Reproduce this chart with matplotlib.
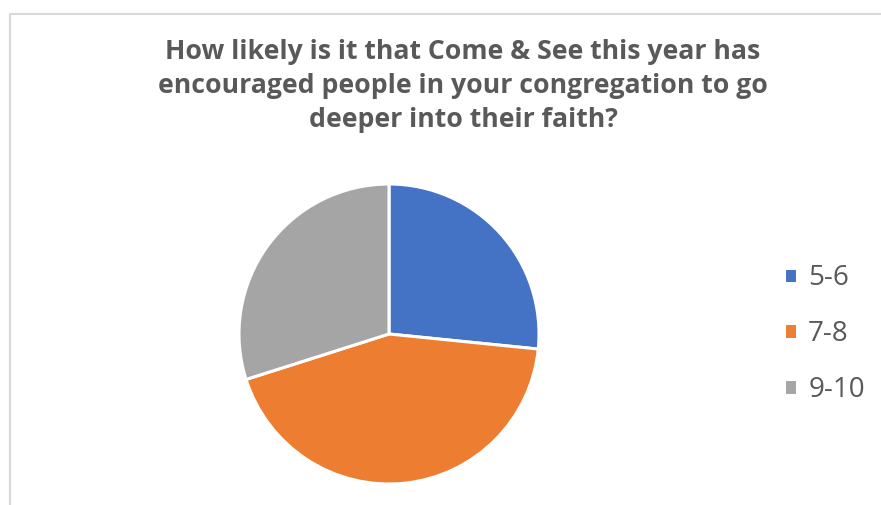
import matplotlib
matplotlib.use("Agg")
import matplotlib.pyplot as plt
from matplotlib.patches import Rectangle

labels = ["5-6", "7-8", "9-10"]
values = [26.6, 43.5, 29.9]
colors = ["#4472C4", "#ED7D31", "#A5A5A5"]
title = "How likely is it that Come & See this year has\nencouraged people in your congregation to go\ndeeper into their faith?"

W, H = 881, 505
fig = plt.figure(figsize=(W / 100, H / 100), dpi=100)
fig.patch.set_facecolor("white")

# chart frame
fig.patches.append(Rectangle((10 / W, -0.1), 1.2, 1 - 14 / H + 0.1, transform=fig.transFigure,
                             facecolor="none", edgecolor="#D9D9D9", linewidth=1.5))

cx, cy, r = 389, 334, 150
ax = fig.add_axes([(cx - r) / W, (H - cy - r) / H, 2 * r / W, 2 * r / H])
wedges, _ = ax.pie(values, colors=colors, startangle=90, counterclock=False,
                   wedgeprops=dict(edgecolor="white", linewidth=2.2), radius=1)
ax.set_xlim(-1.0, 1.0)
ax.set_ylim(-1.0, 1.0)
ax.set_aspect("equal")
ax.axis("off")

fig.text(463 / W, 1 - 86 / H, title, ha="center", va="center", fontsize=19.2,
         fontweight="bold", color="#595959", family="Open Sans", linespacing=1.4)

leg = fig.legend(wedges, labels, loc="center left", bbox_to_anchor=(784 / W, 1 - 334 / H),
                 frameon=False, handlelength=0.47, borderpad=0, borderaxespad=0,
                 handleheight=0.47, handletextpad=0.4, labelspacing=1.0,
                 prop=dict(family="Open Sans", size=20))
for t in leg.get_texts():
    t.set_color("#595959")

fig.savefig("out.png", dpi=100, facecolor="white")
